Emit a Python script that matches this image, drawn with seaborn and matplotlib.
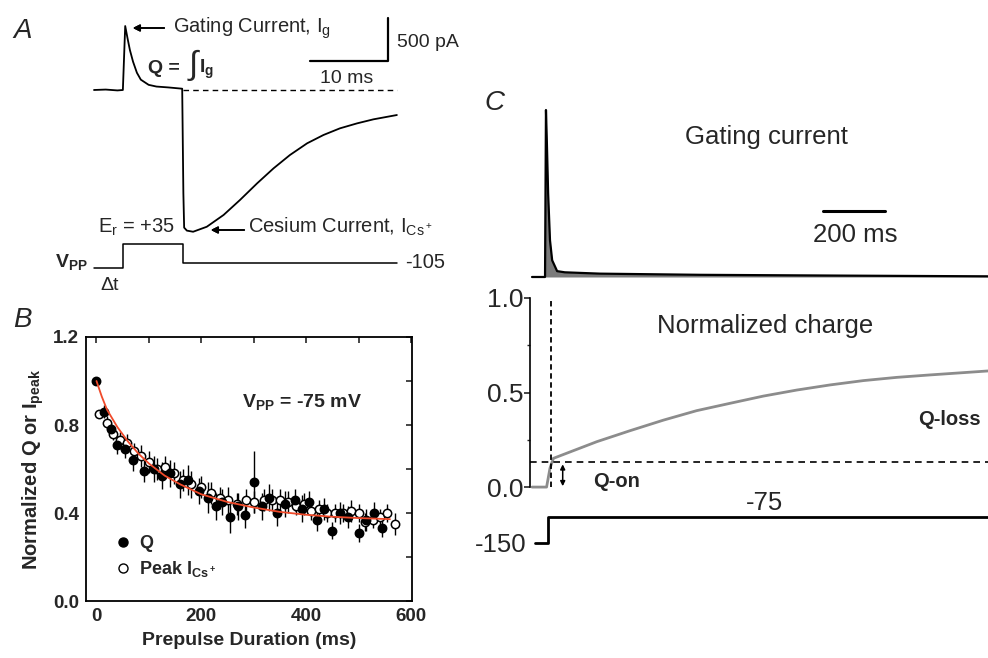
import matplotlib
matplotlib.use('Agg')
import matplotlib.pyplot as plt
import seaborn as sns
from matplotlib.ticker import MultipleLocator, FixedLocator
from matplotlib.lines import Line2D

# ==================== data ====================
# Panel A: gating + cesium current trace (ms, pA)
a_trace_t = [0, 1.5, 3.0, 3.7, 4.0, 4.3, 4.6, 5.0, 5.5, 6.0, 7.0, 8.0, 9.5, 11.3,
             11.45, 11.55, 11.9, 12.7, 14.45, 16.6, 18.7, 20.9, 23.0, 25.1, 27.3,
             29.4, 31.5, 33.7, 35.8, 38.8]
a_trace_i = [0, 5, -5, 0, 744, 600, 465, 330, 200, 120, 60, 40, 30, 15,
             -1200, -1600, -1635, -1648, -1590, -1453, -1279, -1085, -911, -756, -620,
             -523, -446, -388, -341, -291]
# Panel A: pulse protocol (ms, mV)
a_volt_t = [0, 3.7, 3.7, 11.4, 11.4, 38.8]
a_volt_v = [-140, -140, 35, 35, -105, -105]
a_bar_ms = 10
a_bar_pa = 500

# Panel B: normalized charge Q
b_q_t = [0, 15, 28, 40, 55, 70, 90, 110, 125, 140, 160, 175, 195, 212, 228, 240,
         255, 270, 283, 300, 315, 330, 345, 360, 378, 392, 405, 420, 435, 450,
         465, 480, 500, 515, 530, 545]
b_q_v = [1.00, 0.86, 0.78, 0.71, 0.69, 0.64, 0.59, 0.60, 0.57, 0.58, 0.53, 0.55,
         0.50, 0.47, 0.43, 0.45, 0.38, 0.43, 0.39, 0.54, 0.43, 0.47, 0.40, 0.44,
         0.46, 0.42, 0.45, 0.37, 0.42, 0.32, 0.40, 0.38, 0.31, 0.37, 0.40, 0.33]
b_q_err = [0.01, 0.03, 0.03, 0.04, 0.04, 0.05, 0.05, 0.06, 0.06, 0.06, 0.06, 0.07,
           0.06, 0.07, 0.06, 0.06, 0.07, 0.06, 0.06, 0.14, 0.06, 0.06, 0.06, 0.06,
           0.05, 0.06, 0.05, 0.05, 0.05, 0.04, 0.05, 0.05, 0.04, 0.05, 0.05, 0.04]
# Panel B: normalized peak cesium current
b_i_t = [5, 20, 32, 45, 58, 72, 85, 100, 115, 130, 148, 165, 180, 200, 218, 235,
         250, 268, 285, 300, 320, 335, 350, 365, 380, 395, 410, 425, 440, 455,
         470, 485, 500, 512, 528, 540, 555, 570]
b_i_v = [0.85, 0.81, 0.76, 0.73, 0.72, 0.68, 0.66, 0.63, 0.60, 0.61, 0.58, 0.55,
         0.53, 0.52, 0.49, 0.47, 0.46, 0.44, 0.46, 0.45, 0.46, 0.46, 0.46, 0.45,
         0.43, 0.44, 0.41, 0.42, 0.40, 0.40, 0.40, 0.41, 0.40, 0.36, 0.37, 0.38,
         0.40, 0.35]
b_i_err = [0.02, 0.03, 0.03, 0.04, 0.04, 0.04, 0.05, 0.05, 0.05, 0.05, 0.05, 0.05,
           0.06, 0.05, 0.05, 0.05, 0.06, 0.05, 0.05, 0.05, 0.05, 0.05, 0.05, 0.05,
           0.04, 0.05, 0.04, 0.04, 0.04, 0.04, 0.04, 0.05, 0.04, 0.04, 0.04, 0.04,
           0.04, 0.05]
# Panel B: exponential fit
b_fit_t = [0, 10, 20, 40, 60, 80, 100, 130, 160, 200, 250, 300, 350, 400, 450, 500, 560]
b_fit_v = [1.00, 0.93, 0.87, 0.79, 0.725, 0.67, 0.625, 0.57, 0.53, 0.485, 0.45,
           0.425, 0.405, 0.392, 0.383, 0.377, 0.372]

# Panel C: gating current (normalized), charge and voltage protocol
c_gate_t = [0, 42, 45, 48, 52, 58, 65, 81, 106, 219, 542, 1026, 1471]
c_gate_v = [0, 0, 1.0, 0.80, 0.50, 0.22, 0.10, 0.035, 0.028, 0.02, 0.013, 0.008, 0.004]
c_charge_t = [0, 47, 58, 69, 209, 316, 424, 531, 639, 746, 854, 961, 1069, 1176,
              1284, 1391, 1471]
c_charge_v = [0, 0, 0.10, 0.152, 0.240, 0.298, 0.354, 0.404, 0.443, 0.481, 0.513,
              0.540, 0.563, 0.580, 0.593, 0.605, 0.614]
c_qon = 0.13
c_qon_t = 61
c_volt_t = [10, 52, 52, 1471]
c_volt_v = [-150, -150, -75, -75]
c_bar_ms = 200

# ==================== style ====================
sns.set_style("white")
plt.rcParams['font.family'] = ['Liberation Sans', 'DejaVu Sans']
plt.rcParams['mathtext.default'] = 'regular'

W, H = 988, 658
fig = plt.figure(figsize=(W / 100, H / 100), dpi=100)


def box(left, top, right, bottom):
    return [left / W, 1 - bottom / H, (right - left) / W, (bottom - top) / H]


def fp(x, y):
    return (x / W, 1 - y / H)


def ftext(x, y, s, **kw):
    kw.setdefault('va', 'baseline')
    fig.text(x / W, 1 - y / H, s, **kw)


def line(ax, x, y, **kw):
    sns.lineplot(x=x, y=y, ax=ax, sort=False, estimator=None, **kw)
    ax.set_xlabel('')
    ax.set_ylabel('')


def arrow(x0, x1, y):
    fig.add_artist(plt.annotate('', xy=fp(x1, y), xytext=fp(x0, y), xycoords='figure fraction',
                                arrowprops=dict(arrowstyle='-|>', color='black', lw=1.2,
                                                mutation_scale=10)))


# ==================== Panel A ====================
ax_a = fig.add_axes(box(90, 10, 400, 240))
line(ax_a, a_trace_t, a_trace_i, color='black', lw=1.3)
ax_a.hlines(0, a_volt_t[3], a_trace_t[-1], colors='black', lw=1.0, linestyles=(0, (4, 3)))
# scale bars
bar_x1 = 37.7
bar_y0 = 337
ax_a.plot([bar_x1 - a_bar_ms, bar_x1, bar_x1], [bar_y0, bar_y0, bar_y0 + a_bar_pa],
          color='black', lw=1.6)
ax_a.set_xlim(-0.51, 39.2)
ax_a.set_ylim(-1744, 930)
ax_a.axis('off')

ax_av = fig.add_axes(box(90, 238, 400, 275))
line(ax_av, a_volt_t, a_volt_v, color='black', lw=1.1)
ax_av.set_xlim(-0.51, 39.2)
ax_av.set_ylim(-193, 79)
ax_av.axis('off')

ftext(13, 38, 'A', fontsize=20, style='italic')
ftext(173, 33, 'Gating Current, I$_g$', fontsize=14.5)
arrow(167, 130, 28)
ftext(397, 47, '500 pA', fontsize=14)
ftext(320, 83, '10 ms', fontsize=14)
ftext(148, 73, 'Q =', fontsize=14, fontweight='bold')
ftext(189, 74, '∫', fontsize=24)
ftext(199, 73, 'I$_g$', fontsize=14, fontweight='bold')
ftext(248, 233, 'Cesium Current, I$_{Cs^+}$', fontsize=14.5)
arrow(247, 208, 230)
ftext(98, 233, 'E$_r$ = +35', fontsize=14.5)
ftext(55, 267, 'V$_{PP}$', fontsize=14, fontweight='bold')
ftext(100, 290, 'Δt', fontsize=14)
ftext(405, 268, '-105', fontsize=14.5)

# ==================== Panel B ====================
ax_b = fig.add_axes(box(86, 337, 412, 601))
ax_b.errorbar(b_q_t, b_q_v, yerr=b_q_err, fmt='none', ecolor='black', elinewidth=1.0, zorder=2)
ax_b.errorbar(b_i_t, b_i_v, yerr=b_i_err, fmt='none', ecolor='black', elinewidth=1.0, zorder=2)
sns.scatterplot(x=b_i_t, y=b_i_v, ax=ax_b, color='white', edgecolor='black',
                linewidth=1.1, s=36, zorder=3)
sns.scatterplot(x=b_q_t, y=b_q_v, ax=ax_b, color='black', edgecolor='black',
                linewidth=1.1, s=36, zorder=4)
line(ax_b, b_fit_t, b_fit_v, color='#f04a2a', lw=1.3, zorder=5)
ax_b.set_xlim(-20, 602)
ax_b.set_ylim(0, 1.2)
ax_b.xaxis.set_major_locator(FixedLocator([0, 200, 400, 600]))
ax_b.xaxis.set_minor_locator(MultipleLocator(100))
ax_b.yaxis.set_major_locator(FixedLocator([0.0, 0.4, 0.8, 1.2]))
ax_b.yaxis.set_minor_locator(MultipleLocator(0.2))
ax_b.set_yticklabels(['0.0', '0.4', '0.8', '1.2'])
ax_b.tick_params(which='both', direction='in', top=True, right=True, length=4, width=1.2,
                 labelsize=13.5, pad=5)
for lab in ax_b.get_xticklabels() + ax_b.get_yticklabels():
    lab.set_fontweight('bold')
for sp in ax_b.spines.values():
    sp.set_linewidth(1.3)
    sp.set_color('black')
ax_b.set_xlabel('Prepulse Duration (ms)', fontsize=14, fontweight='bold', labelpad=5)
ax_b.set_ylabel('Normalized Q or I$_{peak}$', fontsize=14.5, fontweight='bold', labelpad=5)
ftext(242, 407, 'V$_{PP}$ = -75 mV', fontsize=14, fontweight='bold')
handles = [Line2D([], [], ls='none', marker='o', ms=6.5, mfc='black', mec='black'),
           Line2D([], [], ls='none', marker='o', ms=6.5, mfc='white', mec='black')]
ax_b.legend(handles, ['Q', 'Peak I$_{Cs^+}$'], loc='lower left', bbox_to_anchor=(0.03, 0.02),
            frameon=False, prop={'weight': 'bold', 'size': 13}, handletextpad=0.3,
            labelspacing=0.4, handlelength=1.2)
ftext(13, 327, 'B', fontsize=20, style='italic')

# ==================== Panel C ====================
c_xlim = (-6.5, 1471)
ax_c1 = fig.add_axes(box(530, 95, 988, 283))
ax_c1.fill_between(c_gate_t, c_gate_v, 0, color='#7a7a7a', lw=0)
line(ax_c1, c_gate_t, c_gate_v, color='black', lw=1.6)
ax_c1.plot([939, 939 + c_bar_ms], [0.395, 0.395], color='black', lw=2.2)
ax_c1.set_xlim(*c_xlim)
ax_c1.set_ylim(-0.036, 1.09)
ax_c1.axis('off')

ax_c2 = fig.add_axes(box(530, 290, 988, 492))
line(ax_c2, c_charge_t, c_charge_v, color='#8c8c8c', lw=2.0)
ax_c2.hlines(c_qon, c_xlim[0], c_xlim[1], colors='black', lw=1.2, linestyles=(0, (4, 3)))
ax_c2.vlines(c_qon_t, 0, 1.0, colors='black', lw=1.3, linestyles=(0, (3, 2)))
ax_c2.annotate('', xy=(99, -0.01), xytext=(99, c_qon + 0.005),
               arrowprops=dict(arrowstyle='<|-|>', color='black', lw=1.1, mutation_scale=7))
ax_c2.set_xlim(*c_xlim)
ax_c2.set_ylim(-0.026, 1.042)
for s in ['top', 'right', 'bottom']:
    ax_c2.spines[s].set_visible(False)
ax_c2.spines['left'].set_bounds(0, 1)
ax_c2.spines['left'].set_color('black')
ax_c2.spines['left'].set_linewidth(1.2)
ax_c2.set_xticks([])
ax_c2.set_yticks([0, 0.5, 1.0])
ax_c2.set_yticklabels(['0.0', '0.5', '1.0'])
ax_c2.yaxis.set_minor_locator(FixedLocator([0.25, 0.75]))
ax_c2.tick_params(axis='y', which='major', left=True, direction='out', length=4, width=1.2,
                  labelsize=19, pad=1)
ax_c2.tick_params(axis='y', which='minor', left=True, direction='out', length=2, width=1.0)

ax_c3 = fig.add_axes(box(530, 495, 988, 555))
line(ax_c3, c_volt_t, c_volt_v, color='black', lw=2.0)
ax_c3.set_xlim(*c_xlim)
ax_c3.set_ylim(-184.6, -11.6)
ax_c3.axis('off')

ftext(484, 110, 'C', fontsize=20, style='italic')
ftext(766, 144, 'Gating current', fontsize=18.5, ha='center')
ftext(855, 242, '200 ms', fontsize=18.5, ha='center')
ftext(765, 333, 'Normalized charge', fontsize=18.5, ha='center')
ftext(949, 425, 'Q-loss', fontsize=14.5, fontweight='bold', ha='center')
ftext(593, 487, 'Q-on', fontsize=14.5, fontweight='bold')
ftext(764, 510, '-75', fontsize=18.5, ha='center')
ftext(526, 552, '-150', fontsize=18.5, ha='right')

fig.savefig('out.png', dpi=100)
